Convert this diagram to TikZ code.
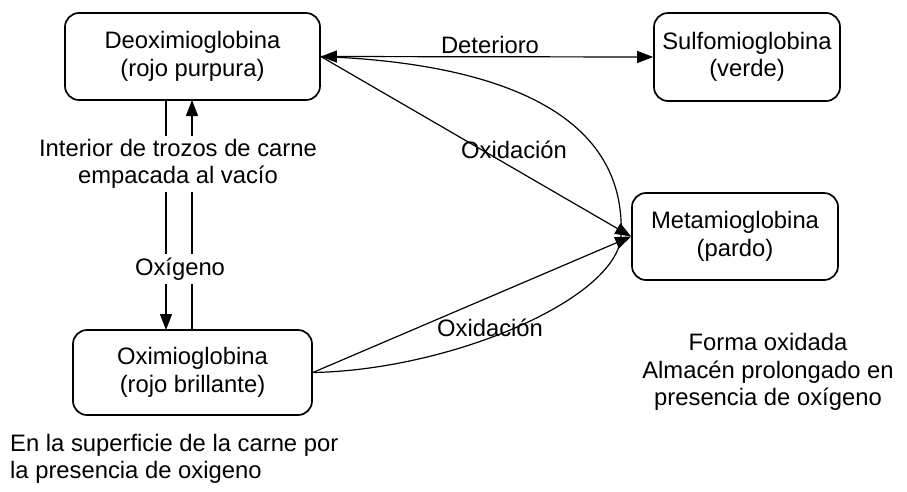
\documentclass[tikz,border=0pt]{standalone}
\usepackage{fontspec}
\setmainfont{Liberation Sans}
\usetikzlibrary{arrows.meta}
\begin{document}
\begin{tikzpicture}[x=1pt,y=-1pt,
  box/.style={draw,line width=1.7pt,rounded corners=14pt,align=center,inner sep=0pt},
  lbl/.style={align=center,inner sep=1pt},
  conn/.style={line width=1.2pt},
  tip/.style={-{Triangle[length=16pt,width=12pt]}},
  every node/.append style={font=\fontsize{23.8}{27.5}\selectfont}]
\useasboundingbox (0,0) rectangle (907,491);
\node[box,minimum width=255pt,minimum height=87pt] (deox) at (192.5,56.5) {Deoximioglobina\\(rojo purpura)};
\node[box,minimum width=186pt,minimum height=88pt] (sulf) at (747,57) {Sulfomioglobina\\(verde)};
\node[box,minimum width=206pt,minimum height=87pt] (met) at (735,236.5) {Metamioglobina\\(pardo)};
\node[box,minimum width=239pt,minimum height=85pt] (oxi) at (192.5,372.5) {Oximioglobina\\(rojo brillante)};
% vertical arrows
\coordinate (d1) at (166,100); \coordinate (o1) at (166,330);
\coordinate (d2) at (192,100); \coordinate (o2) at (192,330);
\draw[conn,tip] (d1) -- (o1);
\draw[conn,tip] (o2) -- (d2);
\node[lbl,fill=white,inner ysep=3pt] (interior) at (178,164) {Interior de trozos de carne\\empacada al vacío};
\node[lbl,fill=white,inner ysep=4pt] (oxig) at (180,269) {Oxígeno};
% deterioro
\draw[conn,{Triangle[length=16pt,width=12pt]}-{Triangle[length=16pt,width=12pt]}] (deox.east) -- (sulf.west);
\node[lbl] (det) at (490,45) {Deterioro};
% oxidation lines
\draw[conn,tip] (deox.east) -- (met.west);
\draw[conn,tip] (oxi.east) -- (met.west);
\coordinate (mc) at (621,237);
\draw[conn] (deox.east) .. controls (470,62) and (628,100) .. (mc);
\draw[conn] (mc) .. controls (615,300) and (450,370) .. (oxi.east);
\node[lbl] (ox1) at (514,150) {Oxidación};
\node[lbl] (ox2) at (490,328) {Oxidación};
% notes
\node[lbl] (forma) at (768,372) {Forma oxidada\\Almacén prolongado en\\presencia de oxígeno};
\node[lbl,align=left,anchor=west] (sup) at (9,459) {En la superficie de la carne por\\la presencia de oxigeno};
\end{tikzpicture}
\end{document}
